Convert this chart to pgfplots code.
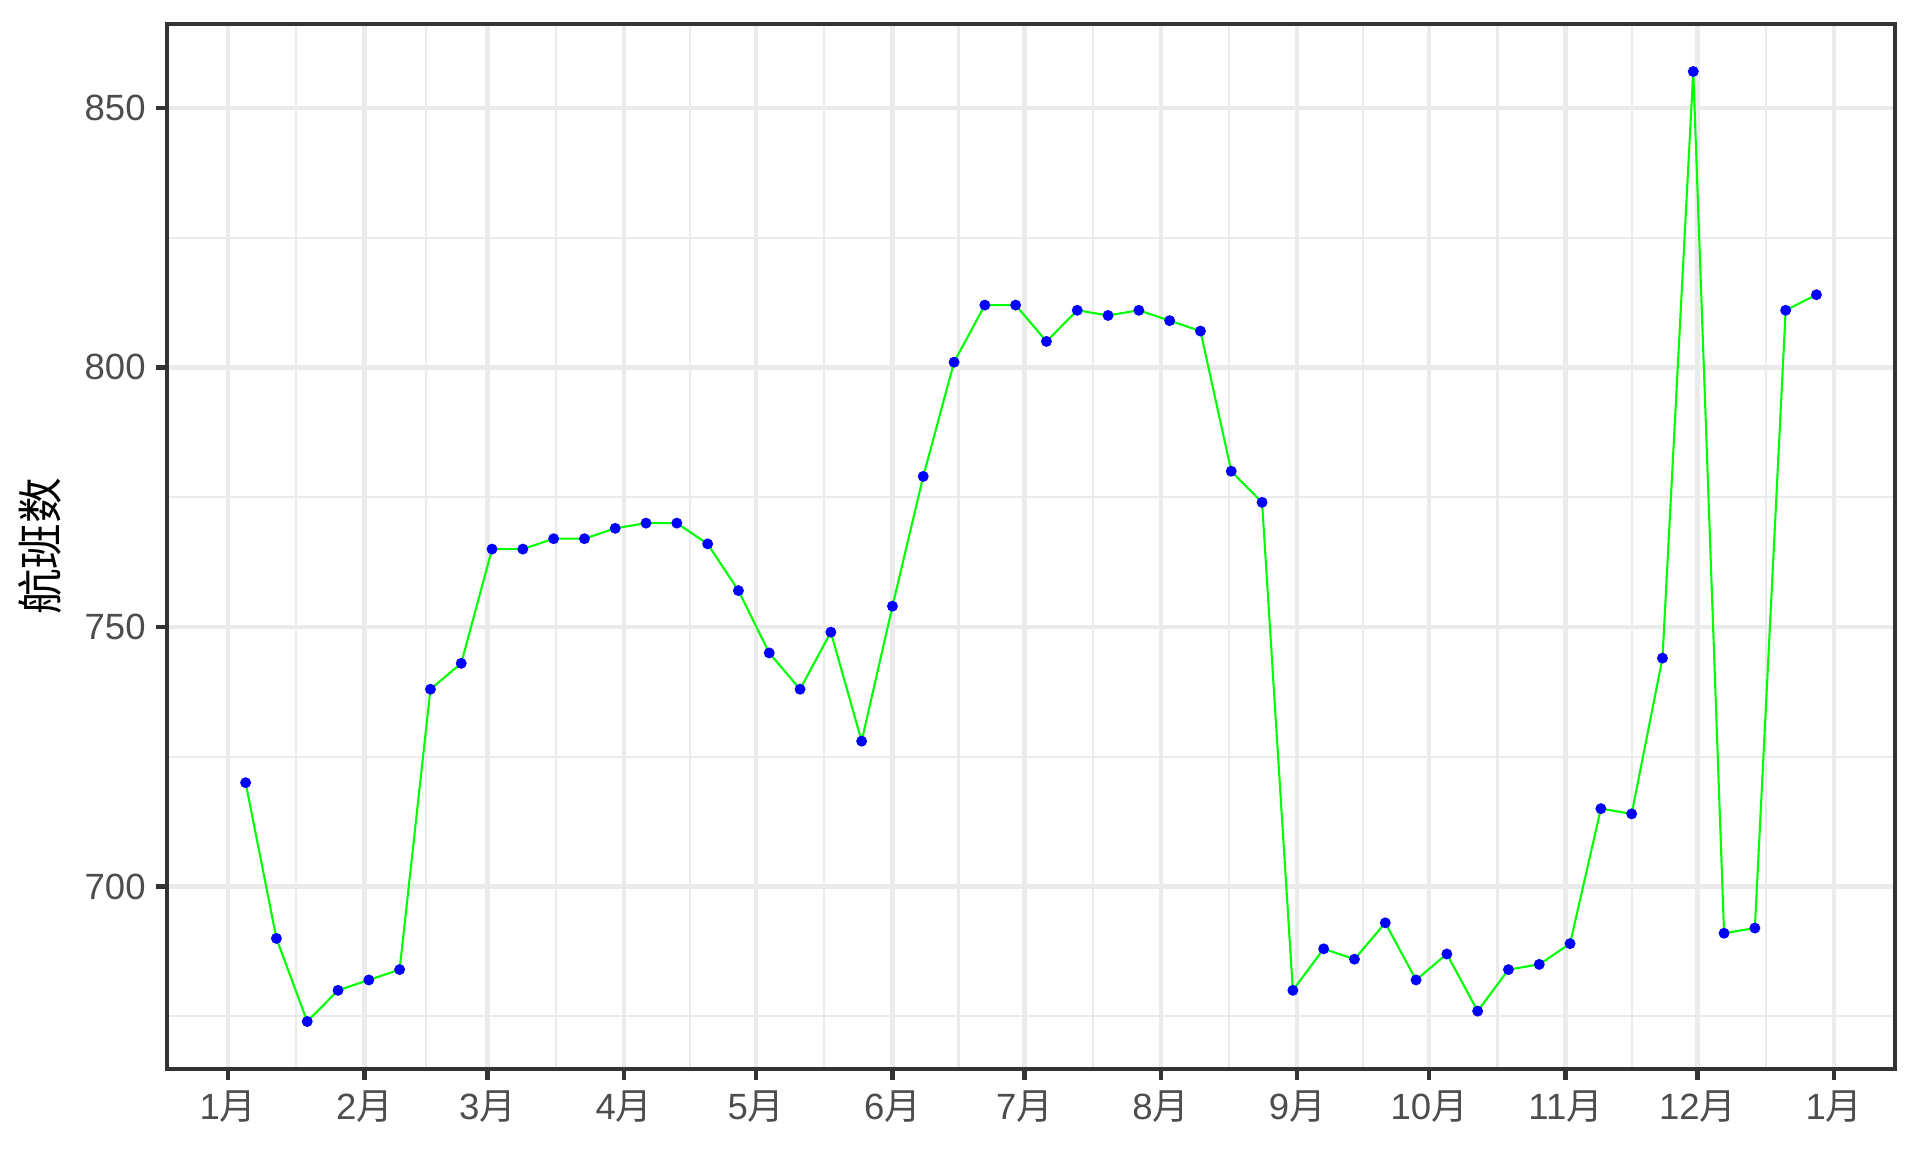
\documentclass[border=0pt]{standalone}
\usepackage{pgfplots}
\pgfplotsset{compat=1.18}
\usepackage{fontspec}
\setmainfont{Liberation Sans}
\newfontfamily\cjk{Noto Sans CJK SC}
\definecolor{gray92}{HTML}{EBEBEB}
\definecolor{gray20}{HTML}{333333}
\definecolor{gray30}{HTML}{4D4D4D}
\pgfplotstableread{
day value
4 720
11 690
18 674
25 680
32 682
39 684
46 738
53 743
60 765
67 765
74 767
81 767
88 769
95 770
102 770
109 766
116 757
123 745
130 738
137 749
144 728
151 754
158 779
165 801
172 812
179 812
186 805
193 811
200 810
207 811
214 809
221 807
228 780
235 774
242 680
249 688
256 686
263 693
270 682
277 687
284 676
291 684
298 685
305 689
312 715
319 714
326 744
333 857
340 691
347 692
354 811
361 814
}\flights
\begin{document}
\begin{tikzpicture}
\useasboundingbox (0,0) rectangle (460.8bp,276.48bp);
\begin{axis}[
  at={(40.1bp,19.92bp)}, anchor=south west,
  scale only axis, width=414.7bp, height=250.8bp,
  xmin=-13.85, xmax=378.85, ymin=664.85, ymax=866.15,
  axis line style={draw=gray20, line width=0.8bp},
  xtick={0,31,59,90,120,151,181,212,243,273,304,334,365},
  xticklabels={1{\cjk 月},2{\cjk 月},3{\cjk 月},4{\cjk 月},5{\cjk 月},6{\cjk 月},7{\cjk 月},8{\cjk 月},9{\cjk 月},10{\cjk 月},11{\cjk 月},12{\cjk 月},1{\cjk 月}},
  minor xtick={15.5,45,74.5,105,135.5,166,196.5,227.5,258,288.5,319,349.5},
  ytick={700,750,800,850},
  minor ytick={675,725,775,825},
  xtick pos=bottom, ytick pos=left,
  tick align=outside,
  major tick length=2.76bp, minor tick length=0pt,
  every tick/.style={draw=gray20, line width=1.07bp},
  grid=both,
  major grid style={draw=gray92, line width=1.07bp},
  minor grid style={draw=gray92, line width=0.53bp},
  ticklabel style={font=\fontsize{8.8}{10}\selectfont, text=gray30},
  /pgf/number format/assume math mode=true,
  yticklabel style={inner sep=0pt, xshift=-2.2bp},
  xticklabel style={inner sep=0pt, yshift=-2.2bp},
  ylabel={\cjk 航班数},
  every axis y label/.style={at={(axis description cs:0,0.5)}, xshift=-30.4bp, rotate=90, anchor=center, font=\fontsize{11}{13}\selectfont},
  clip=false,
]
\addplot[only marks, mark=*, mark size=1.1bp, mark options={draw=blue, fill=blue}] table[x=day, y=value] {\flights};
\addplot[no markers, draw=green, line width=0.5bp] table[x=day, y=value] {\flights};
\end{axis}
\end{tikzpicture}
\end{document}
